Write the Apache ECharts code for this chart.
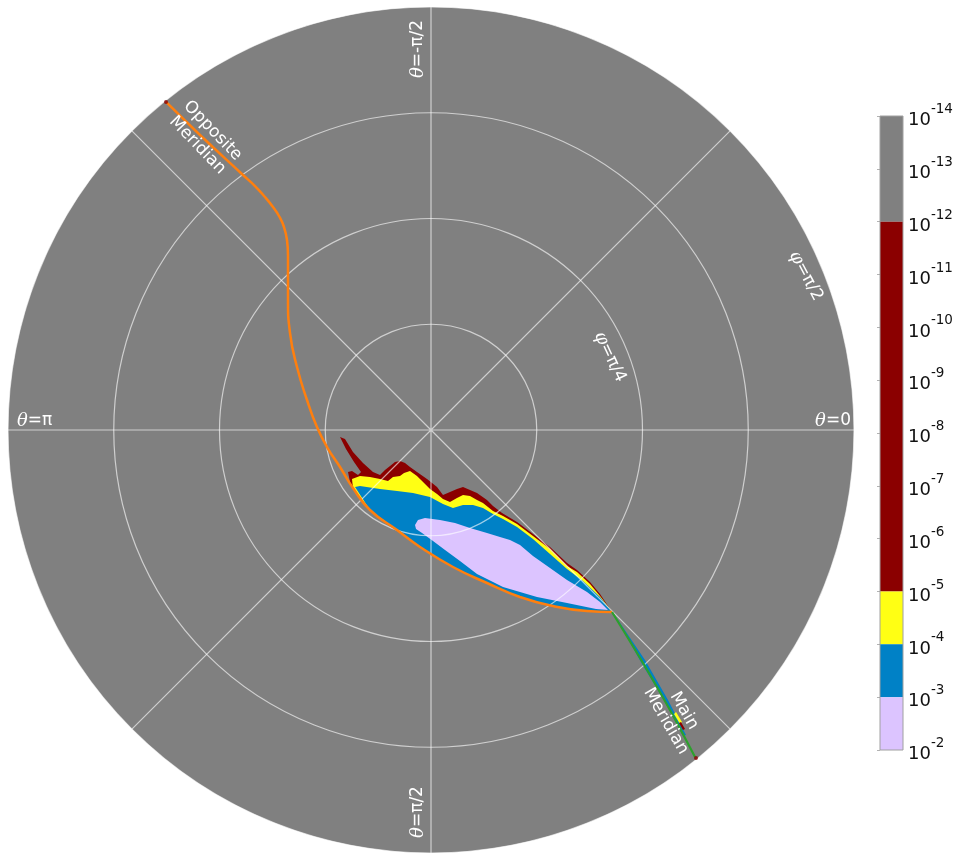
<!DOCTYPE html>
<html><head><meta charset="utf-8">
<script src="https://cdn.jsdelivr.net/npm/echarts/dist/echarts.min.js"></script>
<style>html,body{margin:0;padding:0;background:#fff}#c{width:960px;height:854px}</style>
</head><body><div id="c"></div>
<script>
// ---- data (φ in degrees, projected: x = φ·cosθ, y = φ·sinθ) ----
const phiGridStep = 22.5;      // circles every π/8
const thetaGridStep = 45;      // radial lines every π/4
const colorbarTicks = [-14,-13,-12,-11,-10,-9,-8,-7,-6,-5,-4,-3,-2];
const colorbarBounds = [-14,-12,-5,-4,-3,-2];
const colorbarColors = ['#808080','#8b0000','#ffff14','#0081c6','#dcc4ff'];

const oppositeMeridian = [[-56.38,-69.79],[-49.15,-62.77],[-40.00,-54.26],[-37.45,-51.91],[-35.32,-49.57],
  [-33.62,-47.45],[-32.34,-45.53],[-31.28,-43.19],[-30.64,-40.43],[-30.43,-37.23],[-30.43,-31.91],
  [-30.43,-27.66],[-30.00,-20.64],[-28.51,-13.40],
  [-26.38,-6.38],[-24.26,-0.64],[-22.13,3.62],[-19.36,7.87],[-16.60,12.34],[-12.98,17.02],[-7.23,21.28],
  [-2.34,24.89],[4.68,29.15],[11.91,32.55],[18.94,35.53],[25.96,37.45],[33.19,38.51],[38.51,38.72]];
const mainMeridian = [[38.51,38.72],[45.11,49.57],[50.85,59.57],[56.17,69.57]];
const meridianEnds = [[-56.38,-69.79],[56.38,69.79]];

// upper boundaries of the level regions (lower boundary = opposite meridian)
const redTop = [[-17.23,11.06],[-17.66,8.94],[-16.81,8.72],[-15.53,9.57],[-14.89,8.94],[-16.38,6.81],
  [-18.09,4.04],[-19.36,1.49],[-18.30,1.91],[-16.60,4.68],[-14.47,7.02],[-12.34,8.94],[-10.85,9.57],
  [-9.79,8.51],[-8.72,7.66],[-7.66,6.81],[-6.60,6.60],[-5.53,7.02],[-4.47,7.87],[-2.98,8.94],[-0.85,10.43],
  [1.28,12.13],[2.55,13.83],[4.04,13.19],[5.53,12.55],[6.81,12.13],[8.30,12.77],[9.79,13.40],[11.91,14.89],
  [13.19,16.17],[15.11,17.66],[18.30,19.57],[21.70,22.13],[25.32,24.89],[28.94,28.30],[31.06,29.79],
  [33.83,32.34],[35.96,34.89],[38.51,38.72]];
const yellowTop = [[-16.81,10.43],[-15.11,9.79],[-12.98,10.00],[-10.85,10.43],[-9.15,10.85],[-8.09,10.00],
  [-6.60,9.79],[-5.74,9.15],[-4.47,8.72],[-2.98,9.79],[-1.70,11.06],[-0.21,12.55],[1.28,13.62],[2.55,14.68],
  [4.04,15.32],[5.53,14.47],[6.81,13.83],[8.30,14.04],[9.79,14.89],[11.06,15.53],[13.19,17.23],[15.32,18.30],
  [18.30,20.00],[21.70,22.55],[25.32,25.32],[28.94,28.94],[31.06,30.21],[33.83,32.77],[35.96,35.32],[38.51,38.72]];
const blueTop = [[-16.17,12.13],[-15.11,11.91],[-10.85,12.55],[-7.23,12.98],[-3.83,13.40],[-0.21,14.26],
  [2.55,15.74],[4.68,16.60],[6.81,15.96],[8.94,15.96],[11.06,16.60],[13.19,17.87],[15.32,18.94],[18.30,20.64],
  [21.70,23.19],[25.32,26.38],[28.94,29.57],[32.34,32.13],[35.96,35.53],[38.51,38.72]];
const lavenderOutline = [[-3.40,20.21],[-2.77,19.15],[-1.28,18.72],[1.91,19.15],[5.11,19.79],[8.30,20.85],
  [11.91,21.91],[14.68,22.77],[16.81,23.40],[18.94,24.47],[21.70,26.81],[25.32,29.36],[28.94,31.91],
  [33.19,34.47],[35.96,36.60],[37.66,38.30],[35.11,38.09],[28.94,36.81],[22.55,35.53],[15.32,33.40],
  [9.79,30.64],[6.17,27.87],[2.98,25.53],[0.43,23.62],[-1.91,21.91],[-3.19,21.06]];
const mainBlue = [[38.94,39.15],[45.53,48.94],[50.43,57.45],[54.26,64.89],[53.62,65.11],[49.79,57.87],[44.89,49.79]];
const mainYellow = [[52.13,60.00],[53.40,62.13],[52.98,62.55],[51.70,60.43]];
const mainRed = [[53.19,62.13],[54.04,63.62],[53.62,63.83],[52.77,62.34]];

// ---- build ----
function closeAlongMeridian(top) {
  const x0 = top[0][0], x1 = top[top.length - 1][0];
  const lower = oppositeMeridian.filter(p => p[1] > 0 && p[0] > x0 && p[0] < x1).reverse();
  return top.concat(lower);
}
function polygonSeries(points, color, z) {
  return {
    type: 'custom', coordinateSystem: 'cartesian2d', xAxisIndex: 0, yAxisIndex: 0, z: z, silent: true,
    data: [[0, 0]],
    renderItem: (params, api) => ({
      type: 'polygon',
      shape: { points: points.map(p => api.coord(p)) },
      style: { fill: color }
    })
  };
}
const W = '#ffffff';
const R = {
  t: { fill: W, fontSize: 18, fontFamily: 'DejaVu Serif', fontStyle: 'italic' },
  n: { fill: W, fontSize: 17, fontFamily: 'DejaVu Sans' }
};
const deg = Math.PI / 180;
function label(text, x, y, rot, align) {
  return { type: 'text', x: x, y: y, rotation: rot * deg, z: 100, silent: true,
    style: { text: text, rich: R, align: align || 'center', verticalAlign: 'middle' } };
}
function plain(text, x, y, rot) {
  return { type: 'text', x: x, y: y, rotation: rot * deg, z: 100, silent: true,
    style: { text: text, fill: W, fontSize: 17, fontFamily: 'DejaVu Sans', align: 'center',
      verticalAlign: 'middle', lineHeight: 21 } };
}

const chart = echarts.init(document.getElementById('c'));
const gridLine = { show: true, lineStyle: { color: 'rgba(255,255,255,0.62)', width: 1.2 } };
chart.setOption({
  animation: false,
  backgroundColor: '#ffffff',
  polar: [
    { center: [431, 430], radius: 423 },
    { center: [431, 430], radius: 423 }
  ],
  angleAxis: [
    { polarIndex: 0, type: 'value', min: 0, max: 360, startAngle: 0, clockwise: true, z: 0,
      axisLine: { show: false }, axisTick: { show: false }, axisLabel: { show: false }, splitLine: { show: false } },
    { polarIndex: 1, type: 'value', min: 0, max: 360, interval: thetaGridStep, startAngle: 0, clockwise: true, z: 3,
      axisLine: { show: false }, axisTick: { show: false }, axisLabel: { show: false }, splitLine: gridLine }
  ],
  radiusAxis: [
    { polarIndex: 0, type: 'value', min: 0, max: 90, interval: 90, z: 0,
      axisLine: { show: false }, axisTick: { show: false }, axisLabel: { show: false }, splitLine: { show: false },
      splitArea: { show: true, areaStyle: { color: ['#808080'] } } },
    { polarIndex: 1, type: 'value', min: 0, max: 90, interval: phiGridStep, z: 3,
      axisLine: { show: false }, axisTick: { show: false }, axisLabel: { show: false }, splitLine: gridLine }
  ],
  grid: [
    { left: 8, top: 7, width: 846, height: 846, show: false },
    { left: 880, top: 116, width: 23, height: 634, show: false }
  ],
  xAxis: [
    { gridIndex: 0, type: 'value', min: -90, max: 90, show: false },
    { gridIndex: 1, type: 'value', min: 0, max: 1, show: false }
  ],
  yAxis: [
    { gridIndex: 0, type: 'value', min: -90, max: 90, inverse: true, show: false },
    { gridIndex: 1, type: 'value', min: colorbarTicks[0], max: colorbarTicks[colorbarTicks.length - 1],
      interval: 1, inverse: true, position: 'right',
      axisLine: { show: false }, splitLine: { show: false },
      axisTick: { show: true, inside: true, length: 3, lineStyle: { color: 'rgba(0,0,0,0.3)' } },
      axisLabel: {
        margin: 5,
        formatter: v => '{b|10}{s|' + v + '}',
        rich: {
          b: { fontSize: 18, fontFamily: 'DejaVu Sans', color: '#111', padding: [9, 0, 0, 0] },
          s: { fontSize: 13.5, fontFamily: 'DejaVu Sans', color: '#111', verticalAlign: 'top' }
        }
      } }
  ],
  series: [
    polygonSeries(closeAlongMeridian(redTop), colorbarColors[1], 2),
    polygonSeries(closeAlongMeridian(yellowTop), colorbarColors[2], 2),
    polygonSeries(closeAlongMeridian(blueTop), colorbarColors[3], 2),
    polygonSeries(lavenderOutline, colorbarColors[4], 2),
    polygonSeries(mainBlue, colorbarColors[3], 2),
    polygonSeries(mainYellow, colorbarColors[2], 2),
    polygonSeries(mainRed, colorbarColors[1], 2),
    { type: 'line', xAxisIndex: 0, yAxisIndex: 0, data: oppositeMeridian, showSymbol: false, smooth: 0.5,
      z: 5, silent: true, lineStyle: { color: '#ff7f0e', width: 2.5 } },
    { type: 'line', xAxisIndex: 0, yAxisIndex: 0, data: mainMeridian, showSymbol: false, smooth: 0.3,
      z: 5, silent: true, lineStyle: { color: '#2ca02c', width: 2.2 } },
    { type: 'scatter', xAxisIndex: 0, yAxisIndex: 0, data: meridianEnds, symbolSize: 4, z: 6, silent: true,
      itemStyle: { color: '#8b0000' } },
    { type: 'custom', coordinateSystem: 'cartesian2d', xAxisIndex: 1, yAxisIndex: 1, silent: true, z: 2,
      data: colorbarColors.map((c, i) => [colorbarBounds[i], colorbarBounds[i + 1]]),
      renderItem: (params, api) => {
        const p0 = api.coord([0, api.value(0)]);
        const p1 = api.coord([1, api.value(1)]);
        return { type: 'rect', shape: { x: p0[0], y: p0[1], width: p1[0] - p0[0], height: p1[1] - p0[1] },
          style: { fill: colorbarColors[params.dataIndex] } };
      } },
    { type: 'custom', coordinateSystem: 'cartesian2d', xAxisIndex: 1, yAxisIndex: 1, silent: true, z: 3,
      data: [[colorbarBounds[0], colorbarBounds[colorbarBounds.length - 1]]],
      renderItem: (params, api) => {
        const p0 = api.coord([0, api.value(0)]);
        const p1 = api.coord([1, api.value(1)]);
        return { type: 'rect', shape: { x: p0[0], y: p0[1], width: p1[0] - p0[0], height: p1[1] - p0[1] },
          style: { fill: 'none', stroke: '#a0a0a0', lineWidth: 1 } };
      } }
  ],
  graphic: [
    label('{t|θ}{n|=π}', 17, 421, 0, 'left'),
    label('{t|θ}{n|=0}', 851, 421, 0, 'right'),
    label('{t|θ}{n|=-π/2}', 418, 49, 90),
    label('{t|θ}{n|=π/2}', 418, 812, 90),
    label('{t|φ}{n|=π/4}', 610, 357, -65),
    label('{t|φ}{n|=π/2}', 806, 276, -62),
    plain('Opposite\nMeridian', 205, 138, -46),
    plain('Main\nMeridian', 675, 716, -60)
  ]
});
</script></body></html>
